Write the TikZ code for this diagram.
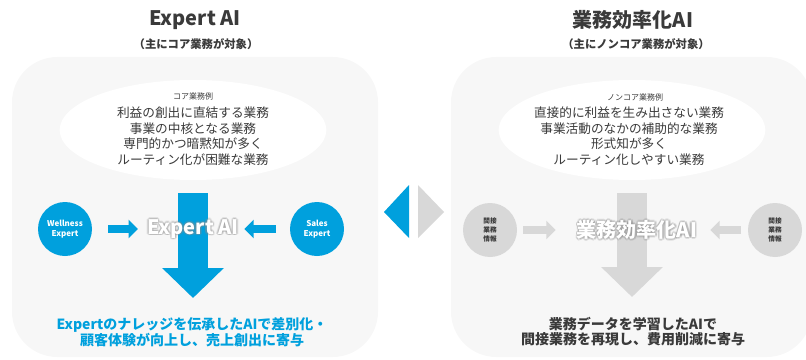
\documentclass[tikz,border=0pt]{standalone}
\usepackage{fontspec}
\setmainfont{Noto Sans CJK JP}
\usetikzlibrary{arrows.meta,shapes.geometric,positioning}
\definecolor{skyblue}{RGB}{0,160,221}
\definecolor{panelgray}{RGB}{247,247,247}
\definecolor{darktext}{RGB}{58,58,58}
\definecolor{softgray}{RGB}{216,216,216}

\begin{document}
\begin{tikzpicture}[x=0.75pt,y=-0.75pt,
  panel/.style={fill=panelgray,rounded corners=34pt},
  case ellipse/.style={ellipse,fill=white,minimum width=200pt,minimum height=75pt},
  title node/.style={font=\fontsize{15}{18}\selectfont\bfseries,text=darktext},
  sub node/.style={font=\fontsize{8.5}{10}\selectfont\bfseries,text=darktext},
  head node/.style={font=\fontsize{6}{7}\selectfont,text=darktext},
  list node/.style={font=\fontsize{9.5}{11.6}\selectfont,text=darktext,align=center},
  source node/.style={circle,minimum size=40.5pt,inner sep=0pt,align=center},
  ai node/.style={font=\fontsize{15}{18}\selectfont\bfseries,text=white,inner sep=3pt},
  glow node/.style={ai node,text=black!45,opacity=0.22},
  result node/.style={font=\fontsize{10.5}{11.25}\selectfont\bfseries,align=center},
  small arrow/.style={line width=6pt,-{Triangle[width=13.5pt,length=7pt]}},
  big arrow/.style={line width=22.5pt,-{Triangle[width=45pt,length=22.5pt]}}]

  \useasboundingbox (0,0) rectangle (806,360);

  % two panels
  \fill[panel] (12,57) rectangle (378,357);
  \fill[panel] (451,57) rectangle (812,357);

  % titles
  \node[title node] (expTitle) at (195,20) {Expert AI};
  \node[sub node] (expSub) at (196,44) {（主にコア業務が対象）};
  \node[title node] (effTitle) at (633,20) {業務効率化AI};
  \node[sub node] (effSub) at (636,44) {（主にノンコア業務が対象）};

  % example tasks
  \node[case ellipse] (coreEll) at (193,130) {};
  \node[head node] (coreHead) at (193,96) {コア業務例};
  \node[list node] (coreList) at (193,136) {利益の創出に直結する業務\\事業の中核となる業務\\専門的かつ暗黙知が多く\\ルーティン化が困難な業務};

  \node[case ellipse] (noncoreEll) at (632,130) {};
  \node[head node] (noncoreHead) at (635,97) {ノンコア業務例};
  \node[list node] (noncoreList) at (629,136) {直接的に利益を生み出さない業務\\事業活動のなかの補助的な業務\\形式知が多く\\ルーティン化しやすい業務};

  % big down arrows
  \coordinate (expTip) at (193,298);
  \coordinate (effTip) at (632,297);
  \draw[big arrow,skyblue,shorten <=9.75pt] (coreEll.south) -- (expTip);
  \draw[big arrow,softgray,shorten <=9.75pt] (noncoreEll.south) -- (effTip);

  % knowledge sources
  \node[source node,fill=skyblue,text=white,font=\fontsize{6}{7}\selectfont\bfseries] (wellness) at (65,229) {Wellness\\Expert};
  \node[source node,fill=skyblue,text=white,font=\fontsize{6}{7}\selectfont\bfseries] (sales) at (317,229) {Sales\\Expert};
  \node[source node,fill=softgray,text=darktext,font=\fontsize{5}{6.5}\selectfont\bfseries] (indirL) at (490,230) {間接\\業務\\情報};
  \node[source node,fill=softgray,text=darktext,font=\fontsize{5}{6.5}\selectfont\bfseries] (indirR) at (775,230) {間接\\業務\\情報};

  % AI labels with soft shadow
  \foreach \a in {0,45,...,315} {
    \node[glow node,shift={(\a:1.6)}] (expGlow\a) at (193,229) {Expert AI};
    \node[glow node,shift={(\a:1.6)}] (effGlow\a) at (637,230) {業務効率化AI};
  }
  \node[ai node] (expAI) at (193,229) {Expert AI};
  \node[ai node] (effAI) at (637,230) {業務効率化AI};

  \path[small arrow,skyblue]
       (wellness) edge[shorten <=12pt,shorten >=3.75pt] (expAI)
       (sales) edge[shorten <=10.5pt,shorten >=1pt] (expAI);
  \path[small arrow,softgray]
       (indirL) edge[shorten <=4.5pt,shorten >=12.75pt] (effAI)
       (indirR) edge[shorten <=5pt,shorten >=6.75pt] (effAI);

  % results
  \node[result node,text=skyblue] (expResult) at (192,332) {Expertのナレッジを伝承したAIで差別化・\\顧客体験が向上し、売上創出に寄与};
  \node[result node,text=darktext] (effResult) at (633,332) {業務データを学習したAIで\\間接業務を再現し、費用削減に寄与};

  % switch mark
  \fill[skyblue] (409,185) -- (384,212) -- (409,238) -- cycle;
  \fill[softgray] (418,185) -- (444,212) -- (418,238) -- cycle;
\end{tikzpicture}
\end{document}
